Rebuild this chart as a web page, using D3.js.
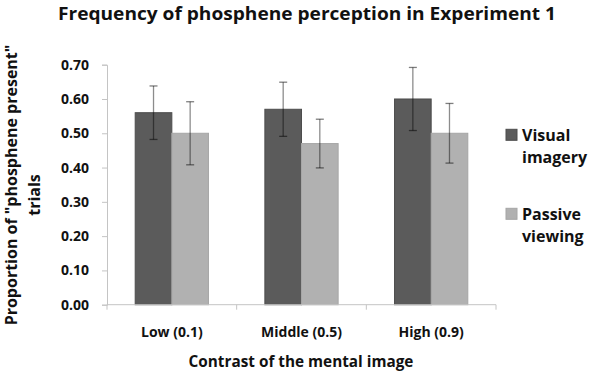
<!DOCTYPE html>
<html>
<head>
<meta charset="utf-8">
<script src="https://cdn.jsdelivr.net/npm/d3@7"></script>
<style>
  html, body { margin: 0; padding: 0; background: #fff; }
  svg { display: block; font-family: "Open Sans", "DejaVu Sans", sans-serif; font-weight: bold; }
</style>
</head>
<body>
<svg id="chart" width="591" height="376"></svg>
<script>
const categories = ["Low (0.1)", "Middle (0.5)", "High (0.9)"];
const seriesNames = ["Visual imagery", "Passive viewing"];
const visualImagery = [0.56, 0.57, 0.60];
const passiveViewing = [0.50, 0.47, 0.50];
const visualImageryErr = [0.078, 0.079, 0.092];
const passiveViewingErr = [0.092, 0.071, 0.087];
const yTicks = [0, 0.1, 0.2, 0.3, 0.4, 0.5, 0.6, 0.7];
const seriesColors = ["#5b5b5b", "#b1b1b1"];
const seriesStroke = ["#4d4d4d", "#a6a6a6"];

const svg = d3.select("#chart");
const plotLeft = 107, plotRight = 496, plotTop = 64.7, plotBottom = 304.7;

// scale a text's font so that its width matches a target width
function fitWidth(sel, target) {
  const fs = parseFloat(sel.style("font-size"));
  const w = sel.node().getComputedTextLength();
  if (w > 0) sel.style("font-size", (fs * target / w) + "px");
}

const y = d3.scaleLinear().domain([0, 0.7]).range([plotBottom, plotTop]);
const x0 = d3.scaleBand().domain(categories).range([plotLeft, plotRight])
  .paddingInner(0.435).paddingOuter(0.2175);
const x1 = d3.scaleBand().domain(seriesNames).range([0, x0.bandwidth()]);

const rows = categories.map((c, i) => ({
  cat: c,
  vals: [
    { s: seriesNames[0], v: visualImagery[i], e: visualImageryErr[i], k: 0 },
    { s: seriesNames[1], v: passiveViewing[i], e: passiveViewingErr[i], k: 1 }
  ]
}));

// Title
svg.append("text").attr("x", 307).attr("y", 19.5).attr("text-anchor", "middle")
  .style("font-size", "17.5px").attr("fill", "#111")
  .attr("textLength", 498).attr("lengthAdjust", "spacingAndGlyphs")
  .text("Frequency of phosphene perception in Experiment 1");

// Y axis
const yAxis = d3.axisLeft(y).tickValues(yTicks).tickFormat(d3.format(".2f")).tickSize(5).tickPadding(13);
const gy = svg.append("g").attr("transform", `translate(${plotLeft},0)`).call(yAxis);
gy.select(".domain").attr("stroke", "#c4c4c4");
gy.selectAll(".tick line").attr("stroke", "#c4c4c4");
gy.selectAll(".tick text").attr("fill", "#111").style("font-size", "14px").style("font-family", "\"Open Sans\", sans-serif").style("font-weight", "bold");

// Bars
const groups = svg.append("g").selectAll("g").data(rows).join("g")
  .attr("transform", d => `translate(${x0(d.cat)},0)`);
groups.selectAll("rect").data(d => d.vals).join("rect")
  .attr("x", d => x1(d.s))
  .attr("y", d => y(d.v))
  .attr("width", x1.bandwidth())
  .attr("height", d => y(0) - y(d.v))
  .attr("fill", d => seriesColors[d.k])
  .attr("stroke", d => seriesStroke[d.k])
  .attr("stroke-width", 1);

// Error bars
const eb = groups.selectAll("g.err").data(d => d.vals).join("g").attr("class", "err");
eb.append("line")
  .attr("x1", d => x1(d.s) + x1.bandwidth() / 2)
  .attr("x2", d => x1(d.s) + x1.bandwidth() / 2)
  .attr("y1", d => y(d.v + d.e))
  .attr("y2", d => y(d.v - d.e))
  .attr("stroke", "#000").attr("stroke-opacity", 0.45).attr("stroke-width", 1.3);
[1, -1].forEach(sg => {
  eb.append("line")
    .attr("x1", d => x1(d.s) + x1.bandwidth() / 2 - 4)
    .attr("x2", d => x1(d.s) + x1.bandwidth() / 2 + 4)
    .attr("y1", d => y(d.v + sg * d.e))
    .attr("y2", d => y(d.v + sg * d.e))
    .attr("stroke", "#000").attr("stroke-opacity", 0.5).attr("stroke-width", 1.3);
});

// X axis
const bounds = categories.map(c => x0(c) - x0.step() * x0.paddingOuter()).concat([plotRight]);
const gx = svg.append("g").attr("transform", `translate(0,${plotBottom})`);
gx.append("line").attr("x1", plotLeft).attr("x2", plotRight).attr("y1", 0).attr("y2", 0).attr("stroke", "#c4c4c4");
gx.selectAll("line.tk").data(bounds).join("line").attr("class", "tk")
  .attr("x1", d => d).attr("x2", d => d).attr("y1", 0).attr("y2", 5).attr("stroke", "#c4c4c4");
gx.selectAll("text").data(categories).join("text")
  .attr("x", d => x0(d) + x0.bandwidth() / 2).attr("y", 32).attr("text-anchor", "middle")
  .style("font-size", "14px").attr("fill", "#111").text(d => d);

// Axis titles
const xt = svg.append("text").attr("x", 301).attr("y", 366.5).attr("text-anchor", "middle")
  .style("font-size", "16px").attr("fill", "#111").text("Contrast of the mental image");
fitWidth(xt, 225);
const yt = svg.append("text").attr("transform", "translate(0,185) rotate(-90)")
  .attr("text-anchor", "middle").style("font-size", "16px").attr("fill", "#111");
yt.append("tspan").attr("x", 0).attr("y", 16.5).text("Proportion of \"phosphene present\"");
yt.append("tspan").attr("x", -10).attr("y", 40).text("trials");

// Legend
const legend = [
  { name: seriesNames[0], lines: ["Visual", "imagery"], k: 0, ly: 129.3 },
  { name: seriesNames[1], lines: ["Passive", "viewing"], k: 1, ly: 208.3 }
];
const lg = svg.append("g").selectAll("g").data(legend).join("g");
lg.append("rect").attr("x", 506).attr("y", d => d.ly).attr("width", 11).attr("height", 11)
  .attr("fill", d => seriesColors[d.k]).attr("stroke", d => seriesStroke[d.k]);
lg.append("text").attr("x", 522).style("font-size", "16px").attr("fill", "#111")
  .selectAll("tspan").data(d => d.lines.map((l, i) => ({ l, i, ly: d.ly }))).join("tspan")
  .attr("x", 522).attr("y", d => d.ly + 11.8 + d.i * 22).text(d => d.l);
</script>
</body>
</html>
